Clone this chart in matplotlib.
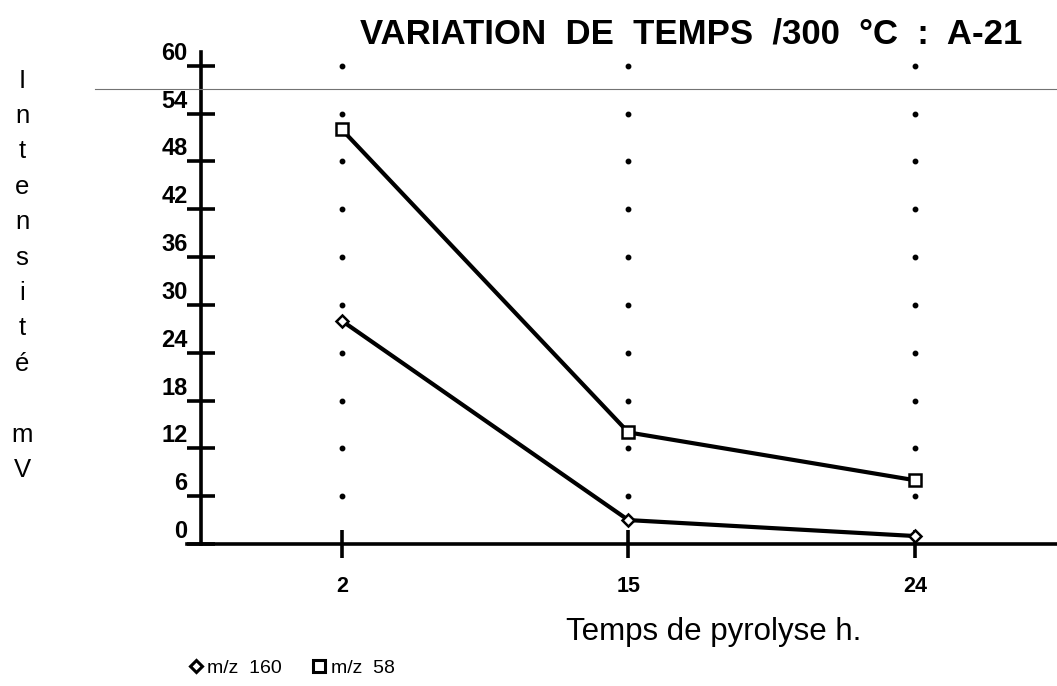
import matplotlib
matplotlib.use("Agg")
import matplotlib.pyplot as plt
from matplotlib.lines import Line2D
from matplotlib.transforms import ScaledTranslation
import numpy as np

plt.rcParams['font.family'] = ['Liberation Sans', 'DejaVu Sans']

# pyrolysis times (h) and signal intensities (mV)
times = ["2", "15", "24"]
mz160 = [28, 3, 1]
mz58 = [52, 14, 8]
yticks = [0, 6, 12, 18, 24, 30, 36, 42, 48, 54, 60]

fig = plt.figure(figsize=(10.57, 6.86), dpi=100)
ax = fig.add_axes([0.177, 0.207, 0.823, 0.717])

x = np.arange(len(times))

# dotted guides: one dot per y tick above zero, at each time
for xi in x:
    ax.plot([xi] * (len(yticks) - 1), yticks[1:], ls='none', marker='o',
            ms=3.2, color='black', zorder=1)

ax.plot(x, mz58, color='black', lw=3, marker='s', ms=9, mfc='white',
        mec='black', mew=1.8, zorder=3)
ax.plot(x, mz160, color='black', lw=3, marker='D', ms=6.5, mfc='white',
        mec='black', mew=1.8, zorder=3)

ax.set_xlim(-0.54, 2.496)
ax.set_ylim(0, 61.7)
ax.spines['left'].set_position(('data', -0.49))
for s in ['top', 'right']:
    ax.spines[s].set_visible(False)
for s in ['left', 'bottom']:
    ax.spines[s].set_linewidth(2.6)

ax.set_xticks(x)
ax.set_xticklabels(times, fontsize=15.5, fontweight='bold')
ax.set_yticks(yticks)
ax.set_yticklabels([str(v) for v in yticks], fontsize=17, fontweight='bold')
ax.tick_params(axis='both', direction='inout', length=20, width=2.6)
ax.tick_params(axis='x', pad=13)
ax.tick_params(axis='y', pad=0)

# y tick labels sit a little above their ticks
shift = ScaledTranslation(0, 0.15, fig.dpi_scale_trans)
for lab in ax.get_yticklabels():
    lab.set_transform(lab.get_transform() + shift)

fig.text(0.654, 0.950, "VARIATION  DE  TEMPS  /300  \u00b0C  :  A-21",
         ha='center', va='center', fontsize=25, fontweight='bold')
fig.text(0.675, 0.078, "Temps de pyrolyse h.", ha='center', va='center',
         fontsize=22.5)
fig.text(0.021, 0.900, "I\nn\nt\ne\nn\ns\ni\nt\n\u00e9\n\nm\nV", ha='center',
         va='top', fontsize=18.5, linespacing=1.6)

# thin grey rule across the top of the page
fig.add_artist(Line2D([0.09, 1.0], [0.870, 0.870], color='0.45', lw=0.8,
                      transform=fig.transFigure))

handles = [
    Line2D([], [], ls='none', marker='D', ms=6, mfc='white', mec='black', mew=2.2),
    Line2D([], [], ls='none', marker='s', ms=9, mfc='white', mec='black', mew=2.2),
]
fig.legend(handles, ["m/z  160", "m/z  58"], loc='center left',
           bbox_to_anchor=(0.163, 0.026), ncol=2, frameon=False, fontsize=14,
           handlelength=0.6, handletextpad=0.3, columnspacing=1.6)

fig.savefig("out.png", dpi=100)
